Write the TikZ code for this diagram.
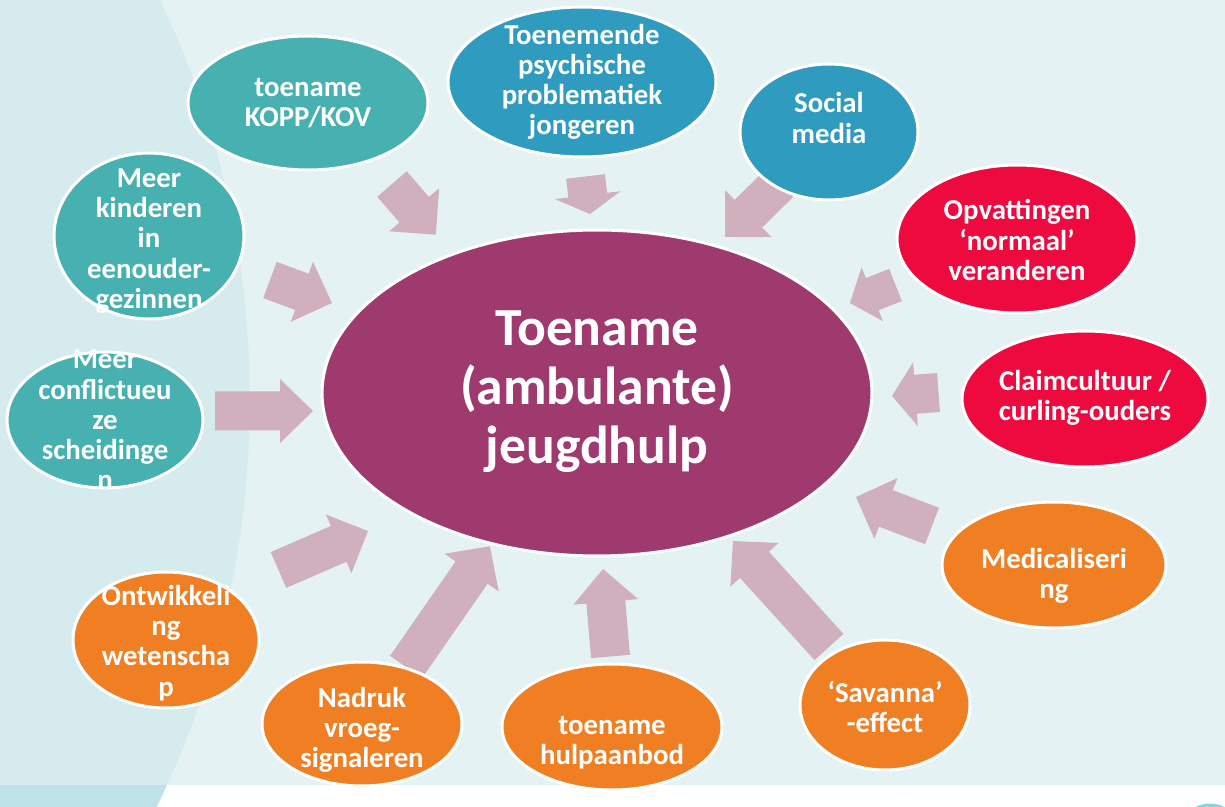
\documentclass[tikz,border=0pt]{standalone}
\usepackage{fontspec}
\setmainfont{Carlito}
\usetikzlibrary{shapes.geometric}
\definecolor{bgc}{HTML}{E4F2F3}
\definecolor{circc}{HTML}{D6EBEE}
\definecolor{stripc}{HTML}{BDE3E8}
\definecolor{ringc}{HTML}{8ED4DC}
\definecolor{tealc}{HTML}{46B1B0}
\definecolor{bluec}{HTML}{2E9BBF}
\definecolor{redc}{HTML}{EE0A3F}
\definecolor{orangec}{HTML}{F07F23}
\definecolor{purplec}{HTML}{9E3A6E}
\definecolor{arrc}{HTML}{CFB0BC}
\tikzset{
  bub/.style={ellipse, draw=white, line width=1.7pt, inner sep=0pt},
  txt/.style={text=white, font=\bfseries\fontsize{16.4}{17.2}\selectfont, align=center, inner sep=0pt},
  bigtxt/.style={text=white, font=\bfseries\fontsize{30.5}{33.5}\selectfont, align=center, inner sep=0pt},
  parrow/.style={fill=arrc}
}
% tailx taily angle(image) len headlen shafthalf headhalf
\newcommand\parr[7]{%
  \fill[parrow, shift={(#1,#2)}, rotate=-#3] (0,-#6) -- ({#4-#5},-#6) -- ({#4-#5},-#7) -- (#4,0) -- ({#4-#5},#7) -- ({#4-#5},#6) -- (0,#6) -- cycle;}
\begin{document}
\begin{tikzpicture}[x=0.02cm, y=-0.02cm]
\useasboundingbox (0,0) rectangle (1225,807);
% background
\fill[bgc] (0,0) rectangle (1225,785);
\fill[white] (0,785) rectangle (1225,807);
\begin{scope}
  \clip (0,0) rectangle (1225,785);
  \fill[circc] (-684,400) circle[radius=18.68cm];
\end{scope}
\begin{scope}
  \clip (0,785) rectangle (1225,807);
  \fill[stripc] (-684,400) circle[radius=18.68cm];
\end{scope}
\begin{scope}
  \clip (0,0) rectangle (1225,807);
  \draw[ringc, line width=2.8pt] (1210,836) circle[radius=0.6cm];
\end{scope}
% arrows
\parr{392}{184}{49.2}{67}{33}{19.5}{33}
\parr{585.5}{176.5}{83.2}{37.8}{19}{19.5}{33}
\parr{779.5}{183}{135.3}{76.7}{33}{19.5}{33}
\parr{895.5}{285}{158.4}{49}{24}{17.3}{29}
\parr{938.5}{392.5}{175.7}{46.6}{23.5}{19.5}{32}
\parr{932}{526}{-159.1}{81.3}{32}{19.5}{32.5}
\parr{829}{647}{-132.2}{143}{32}{19.5}{32.5}
\parr{610.5}{656.5}{-94.9}{87.8}{33}{19.5}{32.5}
\parr{406}{667}{-55.2}{147}{32}{19.5}{33}
\parr{278.5}{570}{-23.5}{97.6}{32}{19.5}{32}
\parr{215}{411}{0}{98}{33}{19.5}{32}
\parr{270}{280}{20.4}{66}{32}{19.3}{32}
% ellipses
\node[bub, fill=purplec, minimum width=11.0cm, minimum height=6.52cm] (center) at (597,393) {};
\node[bub, fill=tealc, minimum width=4.8cm, minimum height=2.68cm] (kopp) at (308,103) {};
\node[bub, fill=bluec, minimum width=5.36cm, minimum height=3.0cm] (psych) at (582,82) {};
\node[bub, fill=bluec, minimum width=3.56cm, minimum height=2.72cm] (social) at (829,132) {};
\node[bub, fill=redc, minimum width=4.8cm, minimum height=2.96cm] (opv) at (1017,239) {};
\node[bub, fill=redc, minimum width=4.92cm, minimum height=2.72cm] (claim) at (1085,399) {};
\node[bub, fill=orangec, minimum width=4.48cm, minimum height=2.52cm] (medi) at (1054,565) {};
\node[bub, fill=orangec, minimum width=3.4cm, minimum height=2.6cm] (sav) at (885,705) {};
\node[bub, fill=orangec, minimum width=4.4cm, minimum height=2.52cm] (hulp) at (612,727) {};
\node[bub, fill=orangec, minimum width=4.0cm, minimum height=2.48cm] (nadruk) at (362,724) {};
\node[bub, fill=orangec, minimum width=3.72cm, minimum height=2.72cm] (ontw) at (166,640) {};
\node[bub, fill=tealc, minimum width=3.92cm, minimum height=2.72cm] (confl) at (105,420) {};
\node[bub, fill=tealc, minimum width=3.8cm, minimum height=3.32cm] (kind) at (149,236) {};
% texts
\node[bigtxt] (center-t) at (597,392) {Toename\\(ambulante)\\jeugdhulp};
\node[txt] (kopp-t) at (308,103) {toename\\KOPP/KOV};
\node[txt] (psych-t) at (582,82) {Toenemende\\psychische\\problematiek\\jongeren};
\node[txt] (social-t) at (829,118) {Social\\media};
\node[txt] (opv-t) at (1017,240) {Opvattingen\\‘normaal’\\veranderen};
\node[txt] (claim-t) at (1085,398) {Claimcultuur /\\curling-ouders};
\node[txt] (medi-t) at (1054,576) {Medicaliseri\\ng};
\node[txt] (sav-t) at (885,707) {‘Savanna’\\-effect};
\node[txt] (hulp-t) at (612,743) {toename\\hulpaanbod};
\node[txt] (nadruk-t) at (362,730) {Nadruk\\vroeg-\\signaleren};
\node[txt] (ontw-t) at (166,643) {Ontwikkeli\\ng\\wetenscha\\p};
\node[txt] (confl-t) at (105,420) {Meer\\conflictueu\\ze\\scheidinge\\n};
\node[txt] (kind-t) at (149,241) {Meer\\kinderen\\in\\eenouder-\\gezinnen};
\end{tikzpicture}
\end{document}
